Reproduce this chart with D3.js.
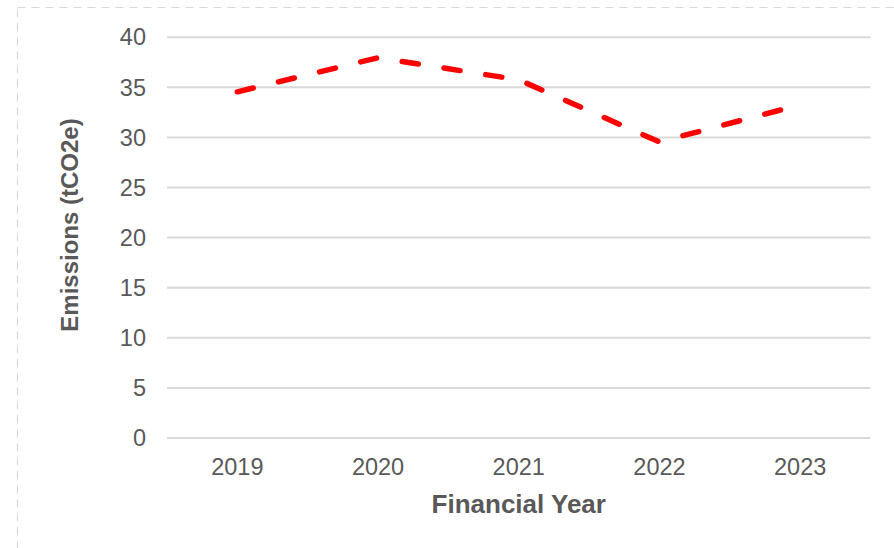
<!DOCTYPE html>
<html>
<head>
<meta charset="utf-8">
<script src="https://cdn.jsdelivr.net/npm/d3@7"></script>
<style>
  html, body { margin: 0; padding: 0; background: #ffffff; }
  svg { display: block; }
  text { font-family: "Liberation Sans", Arial, sans-serif; }
</style>
</head>
<body>
<svg id="chart" width="894" height="548"></svg>
<script>
const years = ["2019", "2020", "2021", "2022", "2023"];
const emissions = [34.5, 37.9, 35.7, 29.5, 33.2];
const yTicks = [0, 5, 10, 15, 20, 25, 30, 35, 40];
const xTitle = "Financial Year";
const yTitle = "Emissions (tCO2e)";

const svg = d3.select("#chart");
const W = 894, H = 548;
const plot = { left: 167, right: 870.5, top: 36.7, bottom: 437.5 };

// dashed outer frame
svg.append("rect")
  .attr("x", 17.5).attr("y", 7.5)
  .attr("width", W + 20).attr("height", H + 20)
  .attr("fill", "none")
  .attr("stroke", "#d9d9d9")
  .attr("stroke-width", 1.2)
  .attr("stroke-dasharray", "8,6");

const x = d3.scaleBand().domain(years).range([plot.left, plot.right]).padding(0);
const y = d3.scaleLinear().domain([0, 40]).range([plot.bottom, plot.top]);

// gridlines
const yAxis = d3.axisLeft(y).tickValues(yTicks).tickSize(-(plot.right - plot.left)).tickPadding(21);
const gy = svg.append("g").attr("transform", `translate(${plot.left},0)`).call(yAxis);
gy.select(".domain").remove();
gy.selectAll(".tick line").attr("stroke", "#d9d9d9").attr("stroke-width", 2);
gy.selectAll(".tick text")
  .attr("fill", "#595959")
  .style("font-size", "23.5px")
  .attr("dy", "0.35em");

// x axis labels
const xAxis = d3.axisBottom(x).tickSize(0).tickPadding(0);
const gx = svg.append("g").attr("transform", `translate(0,${plot.bottom})`).call(xAxis);
gx.select(".domain").remove();
gx.selectAll(".tick text")
  .attr("fill", "#595959")
  .style("font-size", "23.5px")
  .attr("dy", null)
  .attr("y", 37.5);

// line
const line = d3.line()
  .x((d, i) => x(years[i]) + x.bandwidth() / 2)
  .y(d => y(d));

svg.append("path")
  .datum(emissions)
  .attr("d", line)
  .attr("fill", "none")
  .attr("stroke", "#ff0000")
  .attr("stroke-width", 5.5)
  .attr("stroke-linecap", "round")
  .attr("stroke-linejoin", "round")
  .attr("stroke-dasharray", "16.3,26");

// axis titles
svg.append("text")
  .attr("x", (plot.left + plot.right) / 2)
  .attr("y", 512.5)
  .attr("text-anchor", "middle")
  .attr("fill", "#595959")
  .style("font-size", "26px")
  .style("font-weight", "bold")
  .text(xTitle);

svg.append("text")
  .attr("transform", `translate(78,225) rotate(-90)`)
  .attr("text-anchor", "middle")
  .attr("fill", "#595959")
  .style("font-size", "24px")
  .style("font-weight", "bold")
  .text(yTitle);
</script>
</body>
</html>
